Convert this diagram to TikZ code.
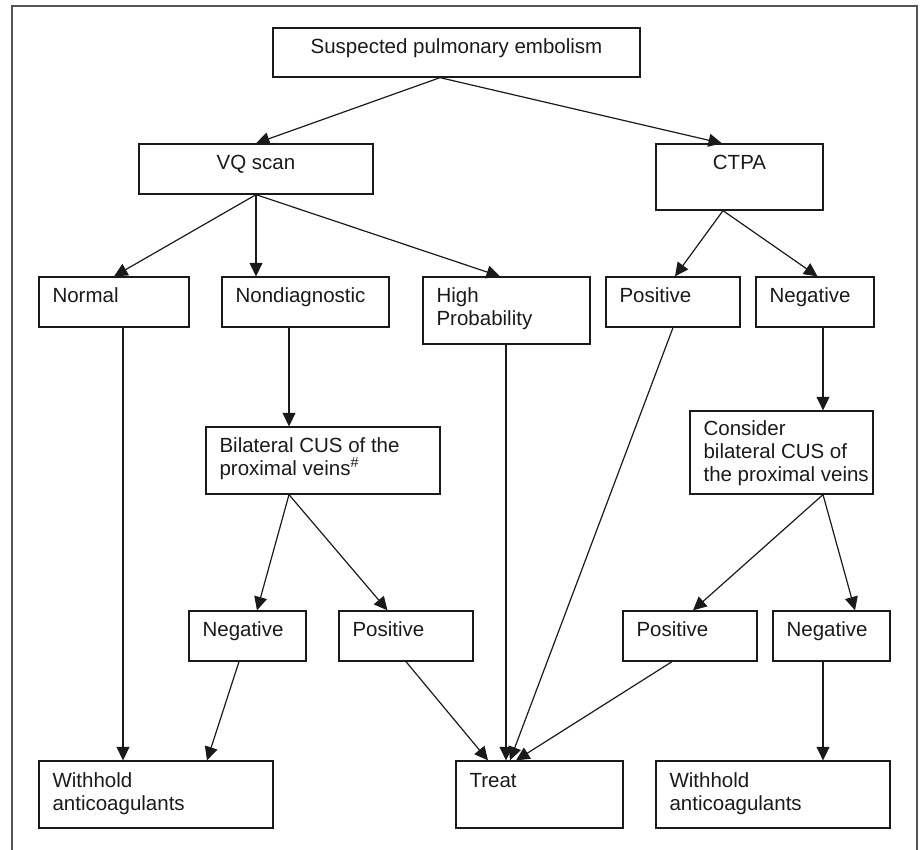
\documentclass[tikz,border=0pt]{standalone}
\usepackage{fontspec}
\setmainfont{Liberation Sans}
\usetikzlibrary{arrows.meta,fit,calc}
\definecolor{ink}{HTML}{1A1A1A}
\definecolor{framegray}{HTML}{555555}
\newcommand\boxtxt[1]{\parbox[t]{300pt}{\raggedright #1}}
\begin{document}
\begin{tikzpicture}[x=1pt,y=-1pt,
  box/.style={draw=ink, line width=1.3pt, inner sep=0pt},
  txt/.style={anchor=base west, inner sep=0pt, text=ink, font=\fontsize{20.5}{23}\selectfont},
  ctxt/.style={anchor=base, inner sep=0pt, text=ink, font=\fontsize{20.5}{23}\selectfont},
  arr/.style={draw=ink, line width=1.2pt, -{Triangle[length=13.5pt,width=13pt]}},
  frameline/.style={draw=framegray, line width=1.8pt}]
\useasboundingbox (0,0) rectangle (920,850);
\draw[frameline] (12,852) -- (12,6) -- (917,6) -- (917,852);

% boxes
\node[box, fit={(273,28) (640,77)}] (top) {};
\node[box, fit={(139,144) (373,194)}] (vq) {};
\node[box, fit={(656,144) (823,210)}] (ctpa) {};
\node[box, fit={(39,277) (189,327)}] (normal) {};
\node[box, fit={(222,277) (389,327)}] (nondiag) {};
\node[box, fit={(423,277) (590,344)}] (high) {};
\node[box, fit={(606,277) (740,327)}] (pos1) {};
\node[box, fit={(756,277) (874,327)}] (neg1) {};
\node[box, fit={(206,427) (440,494)}] (bil) {};
\node[box, fit={(690,411) (873,494)}] (cons) {};
\node[box, fit={(189,611) (306,661)}] (neg2) {};
\node[box, fit={(339,611) (473,661)}] (pos2) {};
\node[box, fit={(623,611) (757,661)}] (pos3) {};
\node[box, fit={(773,611) (890,661)}] (neg3) {};
\node[box, fit={(39,761) (273,828)}] (with1) {};
\node[box, fit={(456,761) (623,828)}] (treat) {};
\node[box, fit={(656,761) (890,828)}] (with2) {};

% texts
\node[ctxt] (ttop) at ([yshift=-26pt]top.north) {Suspected pulmonary embolism};
\node[ctxt] (tvq) at ([yshift=-26pt]vq.north) {VQ scan};
\node[ctxt] (tctpa) at ([yshift=-26pt]ctpa.north) {CTPA};
\node[txt] (tnormal) at ([shift={(14pt,-26pt)}]normal.north west) {Normal};
\node[txt] (tnondiag) at ([shift={(14pt,-26pt)}]nondiag.north west) {Nondiagnostic};
\node[txt] (thigh) at ([shift={(14pt,-26pt)}]high.north west) {\boxtxt{High\\Probability}};
\node[txt] (tpos1) at ([shift={(14pt,-26pt)}]pos1.north west) {Positive};
\node[txt] (tneg1) at ([shift={(14pt,-26pt)}]neg1.north west) {Negative};
\node[txt] (tbil) at ([shift={(14pt,-26pt)}]bil.north west) {\boxtxt{Bilateral CUS of the\\proximal veins\textsuperscript{\#}}};
\node[txt] (tcons) at ([shift={(14pt,-25pt)}]cons.north west) {\boxtxt{Consider\\bilateral CUS of\\the proximal veins}};
\node[txt] (tneg2) at ([shift={(14pt,-26pt)}]neg2.north west) {Negative};
\node[txt] (tpos2) at ([shift={(14pt,-26pt)}]pos2.north west) {Positive};
\node[txt] (tpos3) at ([shift={(14pt,-26pt)}]pos3.north west) {Positive};
\node[txt] (tneg3) at ([shift={(14pt,-26pt)}]neg3.north west) {Negative};
\node[txt] (twith1) at ([shift={(14pt,-27pt)}]with1.north west) {\boxtxt{Withhold\\anticoagulants}};
\node[txt] (ttreat) at ([shift={(14pt,-27pt)}]treat.north west) {Treat};
\node[txt] (twith2) at ([shift={(14pt,-27pt)}]with2.north west) {\boxtxt{Withhold\\anticoagulants}};

% connectors
\coordinate (t1) at ([xshift=-16.5pt]top.south);
\draw[arr] (t1) -- (vq.north);
\draw[arr] (t1) -- ([xshift=-17.5pt]ctpa.north);

\draw[arr] (vq.south) -- (normal.north);
\draw[arr] (vq.south) -- (vq.south |- nondiag.north);
\draw[arr] (vq.south) -- ([xshift=-6.5pt]high.north);

\coordinate (c1) at ([xshift=-16.5pt]ctpa.south);
\draw[arr] (c1) -- ([xshift=2pt]pos1.north);
\draw[arr] (c1) -- ([xshift=2.5pt]neg1.north);

\coordinate (n1) at ([xshift=9pt]normal.south);
\draw[arr] (n1) -- (n1 |- with1.north);
\coordinate (nd1) at ([xshift=-16.5pt]nondiag.south);
\draw[arr] (nd1) -- (nd1 |- bil.north);
\coordinate (h1) at ([xshift=-0.5pt]high.south);
\draw[arr] (h1) -- (h1 |- treat.north);
\draw[arr] (pos1.south) -- ([xshift=-29.5pt]treat.north);
\coordinate (ng1) at ([xshift=8pt]neg1.south);
\draw[arr] (ng1) -- (ng1 |- cons.north);

\coordinate (b1) at ([xshift=-34pt]bil.south);
\draw[arr] (b1) -- ([xshift=9.5pt]neg2.north);
\draw[arr] (b1) -- ([xshift=-18.5pt]pos2.north);

\coordinate (cs1) at ([xshift=41.5pt]cons.south);
\draw[arr] (cs1) -- ([xshift=3pt]pos3.north);
\draw[arr] (cs1) -- ([xshift=23.5pt]neg3.north);

\draw[arr] ([xshift=-8.5pt]neg2.south) -- ([xshift=51pt]with1.north);
\draw[arr] (pos2.south) -- ([xshift=-51.5pt]treat.north);
\draw[arr] ([xshift=-18pt]pos3.south) -- ([xshift=-23.5pt]treat.north);
\coordinate (ng3) at ([xshift=-8.5pt]neg3.south);
\draw[arr] (ng3) -- (ng3 |- with2.north);
\end{tikzpicture}
\end{document}
